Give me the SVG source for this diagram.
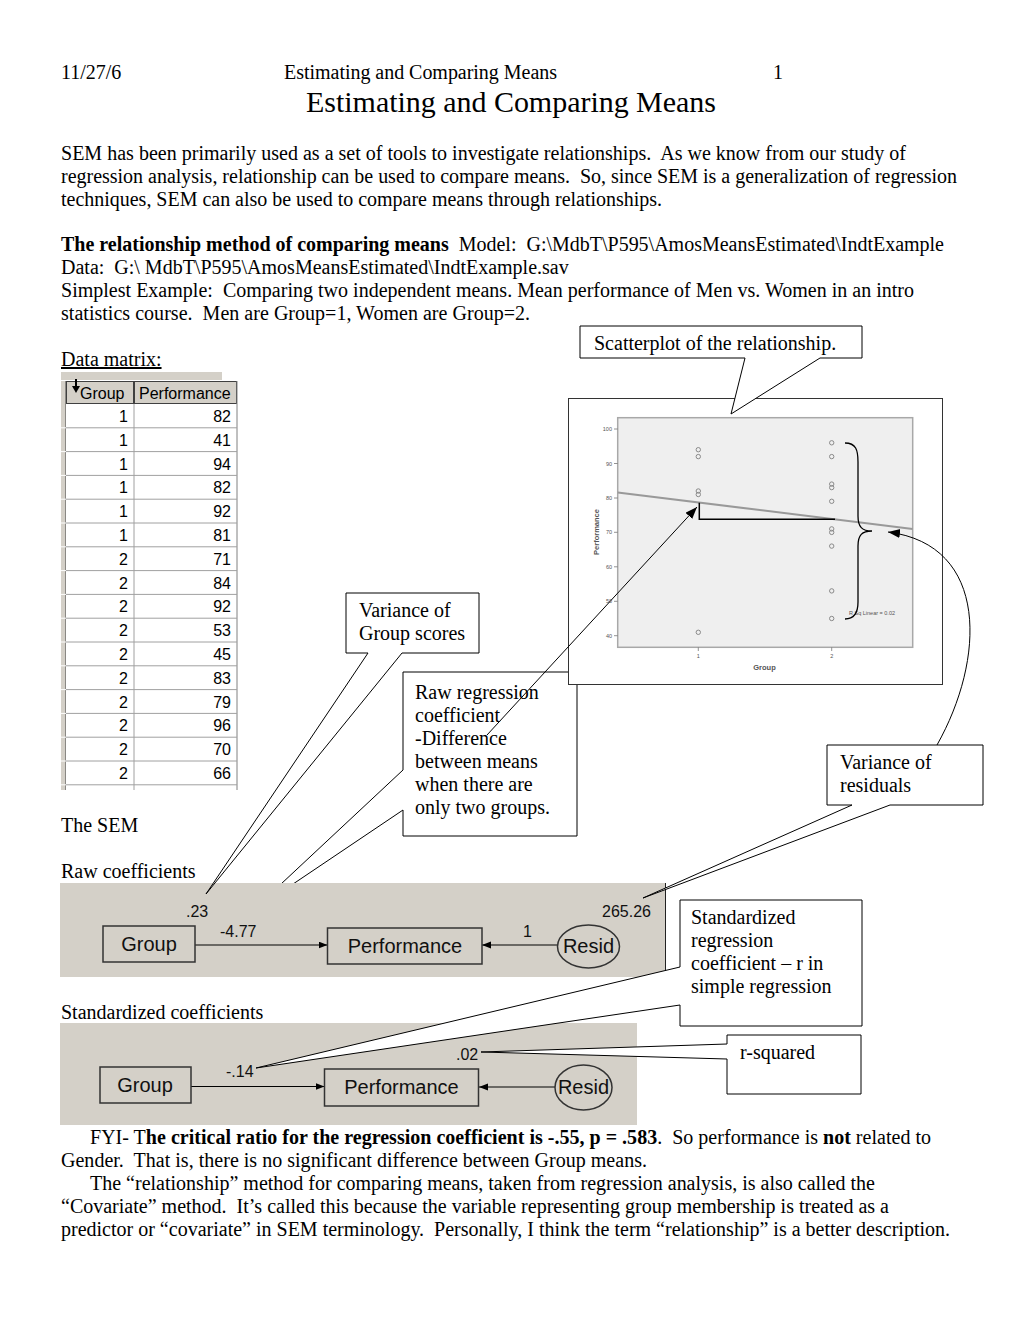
<svg xmlns="http://www.w3.org/2000/svg" width="1020" height="1320" viewBox="0 0 1020 1320">
<style>
.t{font-family:"Liberation Serif","Times New Roman",serif;font-size:20px;fill:#000;white-space:pre}
.b{font-weight:bold}
.sans{font-family:"Liberation Sans",Arial,sans-serif;fill:#000}
.cell{font-family:"Liberation Sans",Arial,sans-serif;font-size:16px;fill:#000;text-anchor:end}
.hdr{font-family:"Liberation Sans",Arial,sans-serif;font-size:16px;fill:#000}
.grid{stroke:#a0a0a0;stroke-width:1;fill:none}
.co{fill:#fff;stroke:#000;stroke-width:1}
.node{fill:none;stroke:#333;stroke-width:1.5}
.nt{font-family:"Liberation Sans",Arial,sans-serif;font-size:20px;fill:#111;text-anchor:middle}
.lb{font-family:"Liberation Sans",Arial,sans-serif;font-size:16px;fill:#111}
.pt{fill:none;stroke:#8a8a8a;stroke-width:1}
.tk{font-family:"Liberation Sans",Arial,sans-serif;font-size:5.5px;fill:#555}
.panel{fill:#d4d0c8}
</style>
<defs>
<marker id="big" markerUnits="userSpaceOnUse" markerWidth="13" markerHeight="10" refX="12" refY="4.5" orient="auto"><path d="M0,0 L12,4.5 L0,9 z" fill="#000"/></marker>
<marker id="sm" markerUnits="userSpaceOnUse" markerWidth="10" markerHeight="8" refX="9" refY="3.5" orient="auto"><path d="M0,0 L9,3.5 L0,7 z" fill="#000"/></marker>
</defs>
<rect width="1020" height="1320" fill="#fff"/>

<g id="text">
<text class="t" x="61" y="79">11/27/6</text>
<text class="t" x="284" y="79" textLength="273">Estimating and Comparing Means</text>
<text class="t" x="773" y="79">1</text>
<text class="t" x="306" y="112" style="font-size:30px" textLength="410">Estimating and Comparing Means</text>
<text class="t" x="61" y="160" textLength="845">SEM has been primarily used as a set of tools to investigate relationships.  As we know from our study of</text>
<text class="t" x="61" y="183" textLength="896">regression analysis, relationship can be used to compare means.  So, since SEM is a generalization of regression</text>
<text class="t" x="61" y="206" textLength="601">techniques, SEM can also be used to compare means through relationships.</text>
<text class="t" x="61" y="251" textLength="883"><tspan class="b">The relationship method of comparing means</tspan>  Model:  G:\MdbT\P595\AmosMeansEstimated\IndtExample</text>
<text class="t" x="61" y="274">Data:  G:\ MdbT\P595\AmosMeansEstimated\IndtExample.sav</text>
<text class="t" x="61" y="297" textLength="853">Simplest Example:  Comparing two independent means. Mean performance of Men vs. Women in an intro</text>
<text class="t" x="61" y="320" textLength="469">statistics course.  Men are Group=1, Women are Group=2.</text>
<text class="t" x="61" y="366" text-decoration="underline">Data matrix:</text>
<text class="t" x="61" y="832">The SEM</text>
<text class="t" x="61" y="878">Raw coefficients</text>
<text class="t" x="61" y="1019">Standardized coefficients</text>
<text class="t" x="90" y="1144" textLength="841">FYI- T<tspan class="b">he critical ratio for the regression coefficient is -.55, p = .583</tspan>.  So performance is <tspan class="b">not</tspan> related to</text>
<text class="t" x="61" y="1167" textLength="586">Gender.  That is, there is no significant difference between Group means.</text>
<text class="t" x="90" y="1190" textLength="785">The “relationship” method for comparing means, taken from regression analysis, is also called the</text>
<text class="t" x="61" y="1213" textLength="828">“Covariate” method.  It’s called this because the variable representing group membership is treated as a</text>
<text class="t" x="61" y="1236" textLength="889">predictor or “covariate” in SEM terminology.  Personally, I think the term “relationship” is a better description.</text>
</g>

<g id="data-matrix">
<rect x="61" y="372" width="161" height="8" fill="#d4d0c8"/>
<rect x="61" y="381" width="5" height="409" fill="#d4d0c8"/>
<line x1="66" y1="381" x2="66" y2="790" stroke="#404040" stroke-width="1"/>
<rect x="66" y="404" width="171" height="386" fill="#fff"/>
<rect x="66.5" y="381.5" width="67" height="22" fill="#d4d0c8" stroke="#404040" stroke-width="1"/>
<rect x="134.5" y="381.5" width="102" height="22" fill="#d4d0c8" stroke="#404040" stroke-width="1"/>
<line x1="237" y1="381" x2="237" y2="790" stroke="#808080" stroke-width="1"/>
<text class="hdr" x="80" y="399">Group</text>
<text class="hdr" x="139" y="399">Performance</text>
<path d="M76,379 V387" stroke="#000" stroke-width="2"/>
<path d="M72,386 L80,386 L76,393 z" fill="#000"/>
<path class="grid" d="M66,427.8H237M66,451.6H237M66,475.4H237M66,499.2H237M66,523H237M66,546.8H237M66,570.6H237M66,594.4H237M66,618.2H237M66,642H237M66,665.8H237M66,689.6H237M66,713.4H237M66,737.2H237M66,761H237M66,784.8H237M134,404V790"/>
<path d="M61,427.8H66M61,451.6H66M61,475.4H66M61,499.2H66M61,523H66M61,546.8H66M61,570.6H66M61,594.4H66M61,618.2H66M61,642H66M61,665.8H66M61,689.6H66M61,713.4H66M61,737.2H66M61,761H66M61,784.8H66" stroke="#fff" stroke-width="1"/>
<g class="cell">
<text x="128" y="422">1</text><text x="231" y="422">82</text>
<text x="128" y="445.8">1</text><text x="231" y="445.8">41</text>
<text x="128" y="469.6">1</text><text x="231" y="469.6">94</text>
<text x="128" y="493.4">1</text><text x="231" y="493.4">82</text>
<text x="128" y="517.2">1</text><text x="231" y="517.2">92</text>
<text x="128" y="541">1</text><text x="231" y="541">81</text>
<text x="128" y="564.8">2</text><text x="231" y="564.8">71</text>
<text x="128" y="588.6">2</text><text x="231" y="588.6">84</text>
<text x="128" y="612.4">2</text><text x="231" y="612.4">92</text>
<text x="128" y="636.2">2</text><text x="231" y="636.2">53</text>
<text x="128" y="660">2</text><text x="231" y="660">45</text>
<text x="128" y="683.8">2</text><text x="231" y="683.8">83</text>
<text x="128" y="707.6">2</text><text x="231" y="707.6">79</text>
<text x="128" y="731.4">2</text><text x="231" y="731.4">96</text>
<text x="128" y="755.2">2</text><text x="231" y="755.2">70</text>
<text x="128" y="779">2</text><text x="231" y="779">66</text>
</g>
</g>

<g id="callout-raw-regression">
<path class="co" d="M403,672 H577 V836 H403 V810 L250,913 L403,770 Z"/>
<text class="t" x="415" y="699">Raw regression</text>
<text class="t" x="415" y="722">coefficient</text>
<text class="t" x="415" y="745">-Difference</text>
<text class="t" x="415" y="768">between means</text>
<text class="t" x="415" y="791">when there are</text>
<text class="t" x="415" y="814">only two groups.</text>
</g>

<g id="scatterplot">
<rect x="568.5" y="398.5" width="374" height="286" fill="#fff" stroke="#333" stroke-width="1"/>
<rect x="617.7" y="417.7" width="295" height="229.6" fill="#efefef" stroke="#a8a8a8" stroke-width="1.5"/>
<path d="M614,429H617.7M614,463.5H617.7M614,498H617.7M614,532.3H617.7M614,566.8H617.7M614,601.3H617.7M614,635.7H617.7M698.3,647.3V651M831.7,647.3V651" stroke="#777" stroke-width="0.8"/>
<g class="tk" text-anchor="end">
<text x="612" y="431">100</text><text x="612" y="465.5">90</text><text x="612" y="500">80</text><text x="612" y="534.3">70</text><text x="612" y="568.8">60</text><text x="612" y="603.3">50</text><text x="612" y="637.7">40</text>
</g>
<text class="tk" x="698.3" y="658" text-anchor="middle">1</text>
<text class="tk" x="831.7" y="658" text-anchor="middle">2</text>
<text class="sans" x="764.5" y="670" font-size="7.5" font-weight="bold" text-anchor="middle" style="fill:#555">Group</text>
<text class="sans" transform="translate(599,532) rotate(-90)" font-size="7.5" font-weight="bold" text-anchor="middle" style="fill:#555">Performance</text>
<text class="tk" x="849" y="615">R Sq Linear = 0.02</text>
<line x1="617.7" y1="492.6" x2="912.7" y2="528.9" stroke="#999" stroke-width="2"/>
<g>
<circle class="pt" cx="698.3" cy="449.7" r="2.2"/><circle class="pt" cx="698.3" cy="456.6" r="2.2"/><circle class="pt" cx="698.3" cy="491" r="2.2"/><circle class="pt" cx="698.3" cy="494.5" r="2.2"/><circle class="pt" cx="698.3" cy="632.3" r="2.2"/>
<circle class="pt" cx="831.7" cy="442.8" r="2.2"/><circle class="pt" cx="831.7" cy="456.6" r="2.2"/><circle class="pt" cx="831.7" cy="484.1" r="2.2"/><circle class="pt" cx="831.7" cy="487.6" r="2.2"/><circle class="pt" cx="831.7" cy="501.3" r="2.2"/><circle class="pt" cx="831.7" cy="528.9" r="2.2"/><circle class="pt" cx="831.7" cy="532.4" r="2.2"/><circle class="pt" cx="831.7" cy="546.1" r="2.2"/><circle class="pt" cx="831.7" cy="590.9" r="2.2"/><circle class="pt" cx="831.7" cy="618.5" r="2.2"/>
</g>
<path d="M699.3,502.7 V519.3 H835" fill="none" stroke="#000" stroke-width="1.5"/>
<path d="M845,443 C856,443 858,450 858,462 L858,516 C858,527 862,531 872,531 C862,531 858,535 858,546 L858,602 C858,613 854,619 845,619" fill="none" stroke="#000" stroke-width="1.3"/>
</g>

<g id="sem-raw">
<rect class="panel" x="60" y="883" width="605" height="94"/>
<line x1="665.5" y1="883" x2="665.5" y2="977" stroke="#222" stroke-width="1"/>
<g id="raw-connectors">
<line x1="195" y1="945" x2="327.5" y2="945" stroke="#000" stroke-width="1.2" marker-end="url(#sm)"/>
<line x1="557" y1="945" x2="482" y2="945" stroke="#000" stroke-width="1.2" marker-end="url(#sm)"/>
</g>
<g id="raw-node-group"><rect class="node" x="103" y="926" width="92" height="36"/><text class="nt" x="149" y="951">Group</text></g>
<g id="raw-node-performance"><rect class="node" x="327.5" y="928" width="154.5" height="36"/><text class="nt" x="405" y="953">Performance</text></g>
<g id="raw-node-resid"><ellipse class="node" cx="588.5" cy="946.5" rx="31" ry="21.5"/><text class="nt" x="588.5" y="953">Resid</text></g>
<text class="lb" x="186" y="917">.23</text>
<text class="lb" x="220" y="937">-4.77</text>
<text class="lb" x="523" y="937">1</text>
<text class="lb" x="602" y="917">265.26</text>
</g>

<g id="sem-standardized">
<rect class="panel" x="60" y="1023" width="577" height="102"/>
<g id="std-connectors">
<line x1="191" y1="1086.5" x2="324.5" y2="1086.5" stroke="#000" stroke-width="1.2" marker-end="url(#sm)"/>
<line x1="555" y1="1087" x2="479" y2="1087" stroke="#000" stroke-width="1.2" marker-end="url(#sm)"/>
</g>
<g id="std-node-group"><rect class="node" x="100" y="1067" width="91" height="36"/><text class="nt" x="145" y="1092">Group</text></g>
<g id="std-node-performance"><rect class="node" x="324.5" y="1069" width="154" height="37"/><text class="nt" x="401.5" y="1094">Performance</text></g>
<g id="std-node-resid"><ellipse class="node" cx="583.5" cy="1087.5" rx="28.5" ry="22.5"/><text class="nt" x="583.5" y="1094">Resid</text></g>
<text class="lb" x="226" y="1077">-.14</text>
<text class="lb" x="456" y="1060">.02</text>
</g>

<g id="callout-scatterplot">
<path class="co" d="M580,326 H862 V358 H820 L731,414 L745,358 H580 Z"/>
<text class="t" x="594" y="350">Scatterplot of the relationship.</text>
</g>
<g id="callout-variance-group">
<path class="co" d="M346,593 H479 V653 H402 L206,894 L368,653 H346 Z"/>
<text class="t" x="359" y="617">Variance of</text>
<text class="t" x="359" y="640">Group scores</text>
</g>
<g id="callout-variance-residuals">
<path class="co" d="M827,745 H983 V805 H890 L643,898 L852,805 H827 Z"/>
<text class="t" x="840" y="769">Variance of</text>
<text class="t" x="840" y="792">residuals</text>
</g>
<g id="callout-standardized">
<path class="co" d="M680,900 H862 V1026 H680 V1005 L256,1068 L680,967 Z"/>
<text class="t" x="691" y="924">Standardized</text>
<text class="t" x="691" y="947">regression</text>
<text class="t" x="691" y="970">coefficient – r in</text>
<text class="t" x="691" y="993">simple regression</text>
</g>
<g id="callout-r-squared">
<path class="co" d="M727,1035 H861 V1094 H727 V1059 L481,1052 L727,1044 Z"/>
<text class="t" x="740" y="1059">r-squared</text>
</g>

<g id="connectors">
<line x1="487" y1="735" x2="697" y2="507" stroke="#000" stroke-width="1" marker-end="url(#big)"/>
<path d="M937,745 C985,660 990,545 888,532" fill="none" stroke="#000" stroke-width="1" marker-end="url(#big)"/>
</g>
</svg>
